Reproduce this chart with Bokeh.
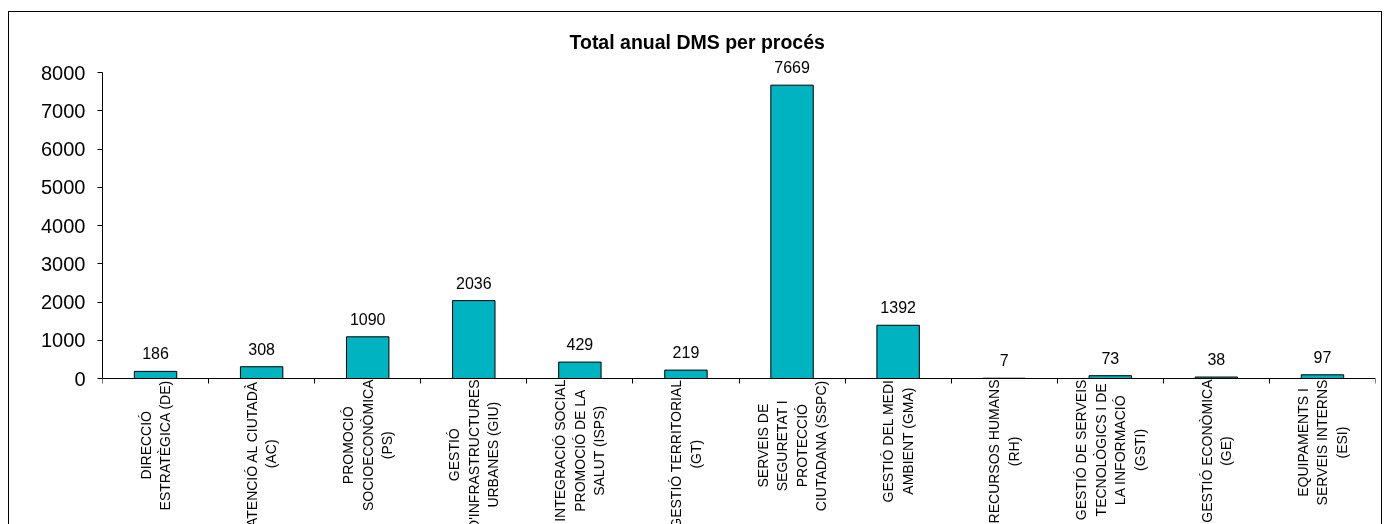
import unicodedata
import numpy as np
from bokeh.plotting import figure
from bokeh.models import ColumnDataSource, LabelSet, Range1d, FixedTicker, LinearAxis
from bokeh.core.properties import value
from bokeh.embed import file_html
from bokeh.resources import INLINE

# ---------------- data ----------------
chart_title = "Total anual DMS per procés"
categories = [
    "DIRECCIÓ\nESTRATÈGICA (DE)",
    "ATENCIÓ AL CIUTADÀ\n(AC)",
    "PROMOCIÓ\nSOCIOECONÒMICA\n(PS)",
    "GESTIÓ\nD'INFRASTRUCTURES\nURBANES (GIU)",
    "INTEGRACIÓ SOCIAL\nPROMOCIÓ DE LA\nSALUT (ISPS)",
    "GESTIÓ TERRITORIAL\n(GT)",
    "SERVEIS DE\nSEGURETAT I\nPROTECCIÓ\nCIUTADANA (SSPC)",
    "GESTIÓ DEL MEDI\nAMBIENT (GMA)",
    "RECURSOS HUMANS\n(RH)",
    "GESTIÓ DE SERVEIS\nTECNOLÒGICS I DE\nLA INFORMACIÓ\n(GSTI)",
    "GESTIÓ ECONÒMICA\n(GE)",
    "EQUIPAMENTS I\nSERVEIS INTERNS\n(ESI)",
]
values = [186, 308, 1090, 2036, 429, 219, 7669, 1392, 7, 73, 38, 97]
y_ticks = [0, 1000, 2000, 3000, 4000, 5000, 6000, 7000, 8000]

# ---------------- style / layout ----------------
FONT = "Liberation Sans"
BAR_COLOR = "#00B3C1"
CAT_SIZE = 14          # px
LINE_STEP = 19.5       # px between label lines
AXIS_GAP = 1           # px between axis and label block

W, H = 1374, 600
B_LEFT, B_RIGHT, B_TOP, B_BOTTOM = 93, 8, 41, 30
ZERO_PX = 366          # canvas px of value 0
TOP_TICK_PX = 60       # canvas px of the top tick value
ppu = (ZERO_PX - TOP_TICK_PX) / float(y_ticks[-1])
y_end = y_ticks[-1] + (TOP_TICK_PX - B_TOP) / ppu
y_start = -((H - B_BOTTOM) - ZERO_PX) / ppu

# Arial / Liberation Sans advance widths (per 1000 em) for label measuring
AW = {"A": 667, "B": 667, "C": 722, "D": 722, "E": 667, "F": 611, "G": 778,
      "H": 722, "I": 278, "J": 500, "K": 667, "L": 556, "M": 833, "N": 722,
      "O": 778, "P": 667, "Q": 778, "R": 722, "S": 667, "T": 611, "U": 722,
      "V": 667, "W": 944, "X": 667, "Y": 667, "Z": 611, " ": 278, "(": 333,
      ")": 333, "'": 191}


def text_px(s, size):
    tot = 0
    for ch in s:
        base = unicodedata.normalize("NFD", ch)[0]
        tot += AW.get(base, 600)
    return tot / 1000.0 * size


n = len(categories)
xs = np.arange(n) + 0.5          # category centres
edges = list(range(n + 1))       # category boundaries (tick marks)

bar_src = ColumnDataSource(dict(x=xs, v=values, vt=[str(v) for v in values]))

lx, ly, lt, lxo, lyo = [], [], [], [], []
for i, cat in enumerate(categories):
    lines = cat.split("\n")
    longest = max(text_px(s, CAT_SIZE) for s in lines)
    for j, s in enumerate(lines):
        lx.append(xs[i])
        ly.append(0)
        lt.append(s)
        lxo.append((j - (len(lines) - 1) / 2.0) * LINE_STEP)
        lyo.append(-(AXIS_GAP + longest / 2.0))
lab_src = ColumnDataSource(dict(x=lx, y=ly, t=lt, xo=lxo, yo=lyo))

p = figure(width=W, height=H, output_backend="svg", toolbar_location=None,
           x_range=Range1d(0, n), y_range=Range1d(y_start, y_end),
           x_axis_location=None,
           min_border_left=B_LEFT, min_border_right=B_RIGHT,
           min_border_top=B_TOP, min_border_bottom=B_BOTTOM)
p.styles = {"position": "fixed", "left": "8px", "top": "11px",
            "border": "1px solid #000"}
p.outline_line_color = None
p.xgrid.visible = False
p.ygrid.visible = False
p.background_fill_color = "white"
p.border_fill_color = "white"

p.title.text = chart_title
p.title.text_font = FONT
p.title.text_font_size = "19.5px"
p.title.text_font_style = "bold"
p.title.text_color = "black"
p.title.align = "left"
p.title.offset = 467
p.title.standoff = 2

p.vbar(x="x", top="v", width=0.4, source=bar_src, fill_color=BAR_COLOR,
       line_color="black", line_width=1)

p.yaxis.ticker = FixedTicker(ticks=y_ticks)
p.yaxis.bounds = (y_ticks[0], y_ticks[-1])
p.yaxis.major_label_text_font = FONT
p.yaxis.major_label_text_font_size = "20px"
p.yaxis.major_label_text_color = "black"
p.yaxis.major_label_standoff = 12
p.yaxis.major_tick_out = 5
p.yaxis.major_tick_in = 0
p.yaxis.minor_tick_line_color = None
p.yaxis.axis_line_color = "black"
p.yaxis.major_tick_line_color = "black"

xa = LinearAxis(fixed_location=0, ticker=FixedTicker(ticks=edges),
                major_label_overrides={e: "" for e in edges},
                major_tick_out=5, major_tick_in=0,
                minor_tick_line_color=None, axis_line_color="black",
                major_tick_line_color="black")
p.add_layout(xa, "below")

vals = LabelSet(x="x", y="v", text="vt", source=bar_src, text_align="center",
                text_baseline="alphabetic", y_offset=12,
                text_font=value(FONT), text_font_size="16px", text_color="black")
p.add_layout(vals)

cats = LabelSet(x="x", y="y", text="t", source=lab_src, x_offset="xo",
                y_offset="yo", angle=np.pi / 2, text_align="center",
                text_baseline="middle", text_font=value(FONT),
                text_font_size=f"{CAT_SIZE}px", text_color="black")
p.add_layout(cats)

open("out.html", "w").write(file_html(p, INLINE))
